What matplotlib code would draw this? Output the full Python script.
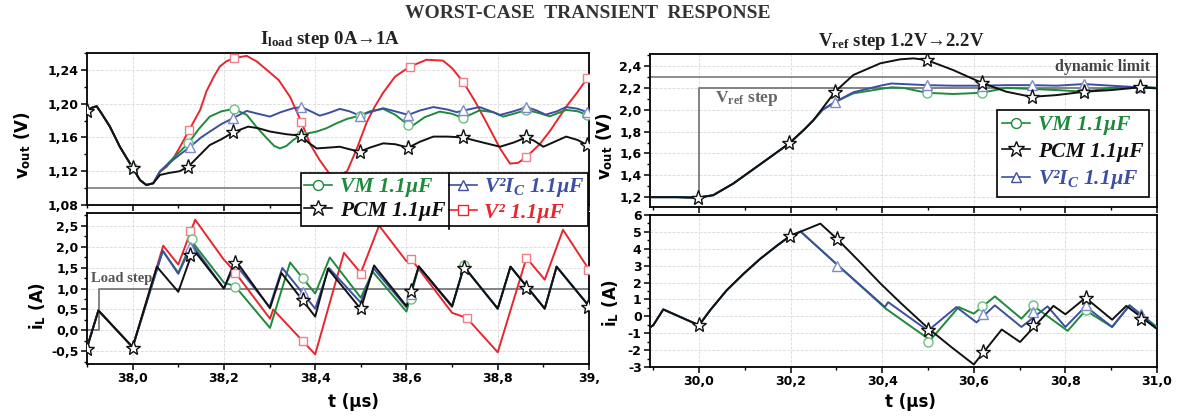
import matplotlib
matplotlib.use("Agg")
import matplotlib.pyplot as plt
from matplotlib.lines import Line2D
from matplotlib.ticker import MultipleLocator, FixedLocator

plt.rcParams['mathtext.fontset'] = 'custom'
plt.rcParams['mathtext.rm'] = 'Liberation Serif:bold'
plt.rcParams['mathtext.bf'] = 'Liberation Serif:bold'
plt.rcParams['mathtext.it'] = 'Liberation Serif:italic:bold'
plt.rcParams['mathtext.sf'] = 'DejaVu Sans:bold'

# ---------------- DATA ----------------
# Left: I_load step, v_out
vm_vout_t = [37.9, 37.91, 37.921, 37.93, 37.95, 37.972, 38.0, 38.016, 38.03, 38.045, 38.06, 38.088, 38.122, 38.145,
             38.169, 38.195, 38.222, 38.25, 38.272, 38.294, 38.31, 38.323, 38.337, 38.352, 38.37, 38.385, 38.403,
             38.425, 38.447, 38.47, 38.498, 38.52, 38.549, 38.575, 38.604, 38.615, 38.64, 38.673, 38.7, 38.724,
             38.76, 38.79, 38.812, 38.835, 38.863, 38.89, 38.914, 38.95, 38.975, 38.996, 39.0]
vm_vout = [1.191, 1.195, 1.197, 1.19, 1.173, 1.149, 1.124, 1.1096, 1.1037, 1.1057, 1.1195, 1.135, 1.153, 1.170,
           1.1847, 1.191, 1.1938, 1.1867, 1.172, 1.159, 1.150, 1.147, 1.150, 1.157, 1.163, 1.165, 1.1669,
           1.171, 1.1768, 1.182, 1.1858, 1.191, 1.1938, 1.187, 1.1748, 1.1745, 1.184, 1.1906, 1.188, 1.183,
           1.192, 1.190, 1.1847, 1.188, 1.1926, 1.189, 1.185, 1.1926, 1.191, 1.1866, 1.186]

v2ic_vout_t = [37.9, 37.91, 37.921, 37.93, 37.95, 37.972, 38.0, 38.016, 38.03, 38.045, 38.06, 38.09, 38.126, 38.15,
               38.169, 38.195, 38.22, 38.25, 38.275, 38.301, 38.325, 38.352, 38.37, 38.39, 38.41, 38.43, 38.454,
               38.475, 38.498, 38.52, 38.549, 38.575, 38.604, 38.63, 38.659, 38.69, 38.71, 38.735, 38.76, 38.785,
               38.805, 38.835, 38.863, 38.885, 38.905, 38.93, 38.95, 38.975, 38.996, 39.0]
v2ic_vout = [1.191, 1.195, 1.197, 1.19, 1.173, 1.149, 1.124, 1.1096, 1.1037, 1.1057, 1.12, 1.134, 1.149, 1.160,
             1.1669, 1.176, 1.1828, 1.1914, 1.188, 1.1847, 1.190, 1.1946, 1.196, 1.191, 1.1858, 1.189, 1.1938,
             1.191, 1.1858, 1.19, 1.1946, 1.191, 1.1867, 1.192, 1.196, 1.193, 1.19, 1.193, 1.196, 1.191,
             1.1866, 1.191, 1.196, 1.192, 1.187, 1.191, 1.196, 1.194, 1.19, 1.189]

pcm_vout_t = [37.9, 37.91, 37.921, 37.93, 37.95, 37.972, 38.0, 38.016, 38.03, 38.045, 38.06, 38.08, 38.103, 38.122,
              38.145, 38.169, 38.195, 38.22, 38.253, 38.275, 38.301, 38.337, 38.37, 38.385, 38.403, 38.43, 38.454,
              38.475, 38.498, 38.52, 38.549, 38.575, 38.604, 38.63, 38.659, 38.69, 38.724, 38.76, 38.805, 38.835,
              38.862, 38.88, 38.9, 38.925, 38.95, 38.975, 38.996, 39.0]
pcm_vout = [1.191, 1.195, 1.197, 1.19, 1.173, 1.149, 1.124, 1.1096, 1.1037, 1.1057, 1.1156, 1.118, 1.12, 1.1254,
            1.138, 1.151, 1.158, 1.166, 1.1728, 1.171, 1.167, 1.1638, 1.162, 1.154, 1.147, 1.148, 1.149,
            1.146, 1.1432, 1.148, 1.153, 1.152, 1.148, 1.155, 1.161, 1.161, 1.16, 1.155, 1.149, 1.154,
            1.16, 1.156, 1.149, 1.155, 1.161, 1.157, 1.151, 1.15]

v2_vout_t = [37.9, 37.91, 37.921, 37.93, 37.95, 37.972, 38.0, 38.016, 38.03, 38.045, 38.06, 38.074, 38.09, 38.104,
             38.124, 38.148, 38.162, 38.178, 38.191, 38.205, 38.222, 38.25, 38.272, 38.294, 38.32, 38.345, 38.37,
             38.389, 38.41, 38.43, 38.45, 38.47, 38.49, 38.513, 38.53, 38.549, 38.575, 38.608, 38.644, 38.68,
             38.70, 38.724, 38.75, 38.776, 38.805, 38.827, 38.845, 38.862, 38.892, 38.915, 38.936, 38.955,
             38.973, 38.996, 39.0]
v2_vout = [1.191, 1.195, 1.197, 1.19, 1.173, 1.149, 1.124, 1.1096, 1.1037, 1.1057, 1.1195, 1.125, 1.136, 1.149,
           1.1689, 1.1926, 1.215, 1.232, 1.244, 1.25, 1.254, 1.2566, 1.25, 1.24, 1.228, 1.208, 1.178,
           1.152, 1.133, 1.118, 1.114, 1.12, 1.145, 1.178, 1.196, 1.213, 1.232, 1.244, 1.252, 1.251,
           1.242, 1.226, 1.203, 1.177, 1.147, 1.129, 1.13, 1.1365, 1.152, 1.168, 1.185, 1.20,
           1.2124, 1.23, 1.233]

# markers (left, v_out)
vm_vout_mk_t = [38.0, 38.122, 38.222, 38.37, 38.498, 38.604, 38.724, 38.863, 38.996]
vm_vout_mk = [1.124, 1.153, 1.1938, 1.163, 1.1858, 1.1748, 1.183, 1.1926, 1.1866]
pcm_vout_mk_t = [37.9, 38.0, 38.122, 38.22, 38.37, 38.498, 38.604, 38.724, 38.862, 38.996]
pcm_vout_mk = [1.191, 1.124, 1.1254, 1.166, 1.162, 1.1432, 1.148, 1.16, 1.16, 1.151]
v2ic_vout_mk_t = [38.126, 38.22, 38.37, 38.498, 38.604, 38.724, 38.863, 38.996]
v2ic_vout_mk = [1.149, 1.1828, 1.196, 1.1858, 1.1867, 1.193, 1.196, 1.19]
v2_vout_mk_t = [38.124, 38.222, 38.37, 38.608, 38.724, 38.862, 38.996]
v2_vout_mk = [1.1689, 1.254, 1.178, 1.244, 1.226, 1.1365, 1.23]

# Left: inductor current
pcm_il_t = [37.9, 37.925, 38.0, 38.053, 38.1, 38.133, 38.2, 38.225, 38.301, 38.326, 38.4, 38.428, 38.5, 38.529,
            38.6, 38.627, 38.70, 38.726, 38.8, 38.828, 38.903, 38.929, 39.0]
pcm_il = [-0.41, 0.476, -0.40, 1.52, 0.92, 1.93, 1.0, 1.68, 0.53, 1.37, 0.33, 1.47, 0.51, 1.55,
          0.58, 1.53, 0.58, 1.52, 0.52, 1.52, 0.52, 1.52, 0.58]
vm_il_t = [37.9, 37.925, 38.0, 38.066, 38.1, 38.13, 38.2, 38.224, 38.301, 38.345, 38.4, 38.432, 38.5, 38.526,
           38.6, 38.627, 38.70, 38.726, 38.8, 38.828, 38.903, 38.929, 39.0]
vm_il = [-0.41, 0.476, -0.40, 1.9, 1.37, 2.12, 1.14, 1.06, 0.06, 1.62, 0.88, 1.74, 0.78, 1.40,
         0.45, 1.52, 0.56, 1.52, 0.52, 1.52, 0.52, 1.52, 0.58]
v2ic_il_t = [37.9, 37.925, 38.0, 38.066, 38.1, 38.13, 38.2, 38.225, 38.3, 38.328, 38.4, 38.43, 38.5, 38.528,
             38.6, 38.627, 38.70, 38.726, 38.8, 38.828, 38.903, 38.929, 39.0]
v2ic_il = [-0.41, 0.476, -0.40, 1.9, 1.35, 2.05, 1.0, 1.58, 0.56, 1.49, 0.52, 1.49, 0.66, 1.48,
           0.55, 1.52, 0.58, 1.52, 0.52, 1.52, 0.52, 1.52, 0.58]
v2_il_t = [37.9, 37.925, 38.0, 38.067, 38.1, 38.137, 38.199, 38.22, 38.301, 38.308, 38.4, 38.463, 38.5, 38.54,
           38.6, 38.61, 38.70, 38.732, 38.8, 38.863, 38.903, 38.943, 39.0]
v2_il = [-0.41, 0.476, -0.40, 2.02, 1.57, 2.64, 1.70, 1.45, 0.28, 0.5, -0.57, 1.85, 1.37, 2.5,
         1.65, 1.71, 0.42, 0.30, -0.52, 1.73, 1.21, 2.40, 1.45]

pcm_il_mk_t = [37.9, 38.0, 38.126, 38.224, 38.374, 38.5, 38.61, 38.726, 38.863, 38.998]
pcm_il_mk = [-0.45, -0.42, 1.8, 1.6, 0.72, 0.54, 0.95, 1.5, 1.02, 0.57]
vm_il_mk_t = [38.129, 38.224, 38.374, 38.61, 38.726]
vm_il_mk = [2.18, 1.04, 1.25, 0.74, 1.55]
v2ic_il_mk_t = [38.126, 38.374, 38.61]
v2ic_il_mk = [1.98, 0.92, 0.88]
v2_il_mk_t = [38.126, 38.224, 38.374, 38.5, 38.61, 38.732, 38.863, 38.998]
v2_il_mk = [2.36, 1.37, -0.26, 1.35, 1.71, 0.30, 1.72, 1.45]

load_step_t = [37.9, 37.926, 37.926, 39.0]
load_step_i = [0.0, 0.0, 1.0, 1.0]
vout_limit_left = 1.10

# Right: Vref step, v_out
pcm_vref_t = [29.893, 29.95, 29.997, 30.031, 30.075, 30.126, 30.16, 30.197, 30.23, 30.25, 30.27, 30.297, 30.337,
              30.396, 30.439, 30.468, 30.497, 30.555, 30.617, 30.671, 30.726, 30.781, 30.841, 30.9, 30.963, 31.0]
pcm_vref = [1.2, 1.2, 1.195, 1.218, 1.325, 1.478, 1.58, 1.692, 1.82, 1.905, 2.015, 2.165, 2.318,
            2.425, 2.461, 2.47, 2.455, 2.363, 2.247, 2.165, 2.118, 2.134, 2.165, 2.18, 2.205, 2.195]
vm_vref_t = [29.893, 29.95, 29.997, 30.031, 30.075, 30.126, 30.16, 30.197, 30.23, 30.25, 30.27, 30.297, 30.337,
             30.396, 30.42, 30.446, 30.497, 30.555, 30.617, 30.671, 30.726, 30.781, 30.841, 30.9, 30.963, 31.0]
vm_vref = [1.2, 1.2, 1.195, 1.218, 1.325, 1.478, 1.58, 1.692, 1.82, 1.905, 2.0, 2.07, 2.15,
           2.19, 2.205, 2.20, 2.155, 2.144, 2.155, 2.20, 2.19, 2.18, 2.165, 2.20, 2.21, 2.20]
v2ic_vref_t = [29.893, 29.95, 29.997, 30.031, 30.075, 30.126, 30.16, 30.197, 30.23, 30.25, 30.27, 30.297, 30.337,
               30.396, 30.42, 30.446, 30.497, 30.555, 30.617, 30.671, 30.726, 30.781, 30.841, 30.9, 30.963, 31.0]
v2ic_vref = [1.2, 1.2, 1.195, 1.218, 1.325, 1.478, 1.58, 1.692, 1.82, 1.905, 2.0, 2.07, 2.16,
             2.22, 2.24, 2.235, 2.225, 2.22, 2.22, 2.225, 2.225, 2.22, 2.235, 2.22, 2.205, 2.20]

pcm_vref_mk_t = [29.997, 30.197, 30.297, 30.497, 30.617, 30.726, 30.841, 30.963]
pcm_vref_mk = [1.19, 1.692, 2.165, 2.455, 2.247, 2.118, 2.165, 2.205]
vm_vref_mk_t = [30.497, 30.617, 30.841]
vm_vref_mk = [2.155, 2.155, 2.165]
v2ic_vref_mk_t = [30.297, 30.497, 30.617, 30.726, 30.841, 30.963]
v2ic_vref_mk = [2.07, 2.225, 2.22, 2.225, 2.235, 2.205]

vref_step_t = [29.893, 30.0, 30.0, 31.0]
vref_step_v = [1.2, 1.2, 2.2, 2.2]
dynamic_limit = 2.3

# Right: inductor current
pcm_il2_t = [29.893, 29.9, 29.922, 30.0, 30.024, 30.06, 30.097, 30.133, 30.17, 30.199, 30.235, 30.265, 30.302,
             30.35, 30.396, 30.44, 30.5, 30.55, 30.6, 30.661, 30.701, 30.774, 30.8, 30.844, 30.902, 30.933, 31.0]
pcm_il2 = [-0.65, -0.53, 0.41, -0.53, 0.35, 1.53, 2.51, 3.39, 4.18, 4.76, 5.16, 5.49, 4.57,
           3.25, 1.95, 0.8, -0.7, -1.8, -2.85, -0.78, -1.52, 0.62, 0.12, 1.1, -0.2, 0.62, -0.75]
vm_il2_t = [29.893, 29.9, 29.922, 30.0, 30.024, 30.06, 30.097, 30.133, 30.17, 30.199, 30.222, 30.302, 30.408,
            30.505, 30.567, 30.6, 30.646, 30.704, 30.73, 30.805, 30.844, 30.902, 30.94, 31.0]
vm_il2 = [-0.65, -0.53, 0.41, -0.53, 0.35, 1.53, 2.51, 3.39, 4.18, 4.76, 5.02, 3.05, 0.45,
          -1.41, 0.55, 0.16, 1.18, -0.14, 0.62, -0.86, 0.35, -0.63, 0.65, -0.63]
v2ic_il2_t = [29.893, 29.9, 29.922, 30.0, 30.024, 30.06, 30.097, 30.133, 30.17, 30.199, 30.222, 30.302, 30.406,
              30.413, 30.5, 30.562, 30.606, 30.646, 30.704, 30.761, 30.8, 30.844, 30.902, 30.94, 31.0]
v2ic_il2 = [-0.65, -0.53, 0.41, -0.53, 0.35, 1.53, 2.51, 3.39, 4.18, 4.76, 5.02, 3.05, 0.55,
            0.84, -0.85, 0.55, -0.36, 0.65, -0.63, 0.59, -0.63, 0.59, -0.63, 0.65, -0.72]

pcm_il2_mk_t = [30.0, 30.199, 30.302, 30.501, 30.621, 30.729, 30.846, 30.966]
pcm_il2_mk = [-0.5, 4.76, 4.57, -0.8, -2.1, -0.53, 1.1, -0.14]
vm_il2_mk_t = [30.5, 30.617, 30.729, 30.846]
vm_il2_mk = [-1.5, 0.59, 0.65, 0.35]
v2ic_il2_mk_t = [30.302, 30.621, 30.729, 30.844, 30.966]
v2ic_il2_mk = [3.0, 0.16, 0.27, 0.65, 0.16]

# tick values
left_vout_ticks = [1.08, 1.12, 1.16, 1.20, 1.24]
left_il_ticks = [-0.5, 0.0, 0.5, 1.0, 1.5, 2.0, 2.5]
left_t_ticks = [38.0, 38.2, 38.4, 38.6, 38.8, 39.0]
left_t_labels = ['38,0', '38,2', '38,4', '38,6', '38,8', '39,']
right_vout_ticks = [1.2, 1.4, 1.6, 1.8, 2.0, 2.2, 2.4]
right_il_ticks = [-3, -2, -1, 0, 1, 2, 3, 4, 5, 6]
right_t_ticks = [30.0, 30.2, 30.4, 30.6, 30.8, 31.0]

# ---------------- STYLE ----------------
GREEN = '#1e8a3c'
BLUE = '#3c4fa0'
RED = '#e8262e'
BLACK = '#111111'
GRAY = '#7a7a7a'
series_style = {
    'vm': dict(color=GREEN, marker='o', ms=6.5, mec='#6cbf80'),
    'pcm': dict(color=BLACK, marker='*', ms=11, mec=BLACK),
    'v2ic': dict(color=BLUE, marker='^', ms=7, mec='#7d8cc8'),
    'v2': dict(color=RED, marker='s', ms=6, mec='#ee7f88'),
}

W, H = 1177, 416
fig = plt.figure(figsize=(W / 100, H / 100), dpi=100)
ax1 = fig.add_axes([87 / W, 1 - 205 / H, 502 / W, 152 / H])
ax2 = fig.add_axes([87 / W, 1 - 364 / H, 502 / W, 151 / H])
ax3 = fig.add_axes([650 / W, 1 - 207 / H, 507 / W, 153 / H])
ax4 = fig.add_axes([650 / W, 1 - 367 / H, 507 / W, 152 / H])

tickfont = dict(family='DejaVu Sans', weight='bold', size=9)


def style_axes(ax, xlim, ylim, xt, yt, yminor, show_x, xlabels=None, ylab_fmt=None):
    ax.set_xlim(*xlim)
    ax.set_ylim(*ylim)
    ax.xaxis.set_major_locator(FixedLocator(xt))
    ax.xaxis.set_minor_locator(MultipleLocator(0.1))
    ax.yaxis.set_major_locator(FixedLocator(yt))
    ax.yaxis.set_minor_locator(MultipleLocator(yminor))
    ax.set_yticklabels([ylab_fmt(v) for v in yt], fontdict=tickfont)
    if show_x:
        ax.set_xticklabels(xlabels if xlabels else [f'{v:.1f}'.replace('.', ',') for v in xt], fontdict=tickfont)
    else:
        ax.set_xticklabels([])
    ax.tick_params(which='major', direction='out', length=4, width=1.1, colors='black', pad=2)
    ax.tick_params(which='minor', direction='out', length=2.5, width=1.0)
    for s in ax.spines.values():
        s.set_linewidth(1.3)
        s.set_color('black')
    ax.grid(True, which='major', color='#d9d9d9', ls='--', lw=0.6)
    ax.set_axisbelow(True)


def draw(ax, key, t, v, mt, mv, lw=1.4):
    st = series_style[key]
    ax.plot(t, v, color=st['color'], lw=lw, zorder=3)
    ax.plot(mt, mv, ls='none', marker=st['marker'], ms=st['ms'], mfc='white', mec=st['mec'],
            mew=1.0, zorder=4)


fmt2 = lambda v: f'{v:.2f}'.replace('.', ',')
fmt1 = lambda v: f'{v:.1f}'.replace('.', ',')
fmt0 = lambda v: f'{v:d}'

style_axes(ax1, (37.9, 39.0), (1.08, 1.26), left_t_ticks, left_vout_ticks, 0.02, False, ylab_fmt=fmt2)
style_axes(ax2, (37.9, 39.0), (-0.8, 2.8), left_t_ticks, left_il_ticks, 0.25, True, left_t_labels, ylab_fmt=fmt1)
style_axes(ax3, (29.893, 31.0), (1.11, 2.51), right_t_ticks, right_vout_ticks, 0.1, False, ylab_fmt=fmt1)
style_axes(ax4, (29.893, 31.0), (-3, 6), right_t_ticks, right_il_ticks, 0.5, True, ylab_fmt=fmt0)

serif = ['Liberation Serif', 'DejaVu Serif']

# reference lines
ax1.axhline(vout_limit_left, color=GRAY, lw=1.2, zorder=2)
ax2.plot(load_step_t, load_step_i, color=GRAY, lw=1.3, zorder=2)
ax2.text(37.908, 1.08, 'Load step', family='Liberation Serif', weight='bold', size=10.5, color='#555555',
         ha='left', va='bottom', zorder=5)
ax3.axhline(dynamic_limit, color=GRAY, lw=1.2, zorder=2)
ax3.plot(vref_step_t, vref_step_v, color=GRAY, lw=1.3, zorder=2)
ax3.text(30.985, 2.315, 'dynamic limit', family='Liberation Serif', weight='bold', size=11.5, color='#444444',
         ha='right', va='bottom', zorder=5)
ax3.text(30.036, 2.19, 'V$_{\\mathrm{ref}}$ step', family='Liberation Serif', weight='bold', size=12.5,
         color='#666666', ha='left', va='top', zorder=5)

# curves
draw(ax1, 'v2', v2_vout_t, v2_vout, v2_vout_mk_t, v2_vout_mk)
draw(ax1, 'vm', vm_vout_t, vm_vout, vm_vout_mk_t, vm_vout_mk)
draw(ax1, 'v2ic', v2ic_vout_t, v2ic_vout, v2ic_vout_mk_t, v2ic_vout_mk)
draw(ax1, 'pcm', pcm_vout_t, pcm_vout, pcm_vout_mk_t, pcm_vout_mk)

draw(ax2, 'v2', v2_il_t, v2_il, v2_il_mk_t, v2_il_mk)
draw(ax2, 'vm', vm_il_t, vm_il, vm_il_mk_t, vm_il_mk)
draw(ax2, 'v2ic', v2ic_il_t, v2ic_il, v2ic_il_mk_t, v2ic_il_mk)
draw(ax2, 'pcm', pcm_il_t, pcm_il, pcm_il_mk_t, pcm_il_mk)

draw(ax3, 'vm', vm_vref_t, vm_vref, vm_vref_mk_t, vm_vref_mk)
draw(ax3, 'v2ic', v2ic_vref_t, v2ic_vref, v2ic_vref_mk_t, v2ic_vref_mk)
draw(ax3, 'pcm', pcm_vref_t, pcm_vref, pcm_vref_mk_t, pcm_vref_mk)

draw(ax4, 'vm', vm_il2_t, vm_il2, vm_il2_mk_t, vm_il2_mk)
draw(ax4, 'v2ic', v2ic_il2_t, v2ic_il2, v2ic_il2_mk_t, v2ic_il2_mk)
draw(ax4, 'pcm', pcm_il2_t, pcm_il2, pcm_il2_mk_t, pcm_il2_mk)

# titles and labels
fig.text(588 / W, 1 - 14 / H, 'WORST-CASE  TRANSIENT  RESPONSE', family=serif, weight='bold', size=14,
         color='#333333', ha='center', va='center')
fig.text(330 / W, 1 - 40 / H, 'I$_{\\mathrm{load}}$ step 0A→1A', family=serif, weight='bold', size=13.5,
         color='#222222', ha='center', va='center')
fig.text(901 / W, 1 - 42 / H, 'V$_{\\mathrm{ref}}$ step 1.2V→2.2V', family=serif, weight='bold', size=13.5,
         color='#222222', ha='center', va='center')

lab = dict(family='DejaVu Sans', weight='bold', size=12, rotation=90, ha='center', va='center')
fig.text(23 / W, 1 - 145 / H, 'v$_{\\mathsf{out}}$ (V)', **lab)
fig.text(38 / W, 1 - 306 / H, 'i$_{\\mathsf{L}}$ (A)', **lab)
fig.text(605 / W, 1 - 146 / H, 'v$_{\\mathsf{out}}$ (V)', **lab)
fig.text(611 / W, 1 - 303 / H, 'i$_{\\mathsf{L}}$ (A)', **lab)
fig.text(353 / W, 1 - 402 / H, 't (µs)', family='DejaVu Sans', weight='bold', size=12, ha='center', va='center')
fig.text(910 / W, 1 - 402 / H, 't (µs)', family='DejaVu Sans', weight='bold', size=12, ha='center', va='center')


# legends
def handle(key):
    st = series_style[key]
    return Line2D([], [], color=st['color'], lw=1.2, marker=st['marker'], ms=st['ms'] * 1.1, mfc='white',
                  mec=st['color'], mew=1.0)


names = {'vm': 'VM 1.1µF', 'pcm': 'PCM 1.1µF', 'v2ic': 'V²I$_{\\mathit{C}}$ 1.1µF', 'v2': 'V² 1.1µF'}
legfont = dict(family='Liberation Serif', weight='bold', style='italic', size=15.5)

keys_l = ['vm', 'pcm', 'v2ic', 'v2']
leg1 = fig.legend([handle(k) for k in keys_l], [names[k] for k in keys_l], ncol=2,
                  bbox_to_anchor=(301 / W, 1 - 228 / H, 287 / W, 55 / H), loc='upper left', mode='expand',
                  prop=legfont, frameon=True, fancybox=False, edgecolor='black', framealpha=1,
                  handlelength=1.3, handletextpad=0.35, borderpad=0.15, labelspacing=0.15, columnspacing=0.8,
                  borderaxespad=0)
leg1.get_frame().set_linewidth(1.2)
for txt, k in zip(leg1.get_texts(), keys_l):
    txt.set_color(series_style[k]['color'])
fig.add_artist(Line2D([449 / W, 449 / W], [1 - 229 / H, 1 - 173 / H], color='black', lw=1.2, zorder=6,
                      transform=fig.transFigure))

keys_r = ['vm', 'pcm', 'v2ic']
leg2 = fig.legend([handle(k) for k in keys_r], [names[k] for k in keys_r], ncol=1,
                  bbox_to_anchor=(997 / W, 1 - 110 / H), loc='upper left',
                  prop=legfont, frameon=True, fancybox=False, edgecolor='black', framealpha=1,
                  handlelength=1.3, handletextpad=0.35, borderpad=0.25, labelspacing=0.3, borderaxespad=0)
leg2.get_frame().set_linewidth(1.2)
for txt, k in zip(leg2.get_texts(), keys_r):
    txt.set_color(series_style[k]['color'])

fig.savefig('out.png', dpi=100, facecolor='white')
